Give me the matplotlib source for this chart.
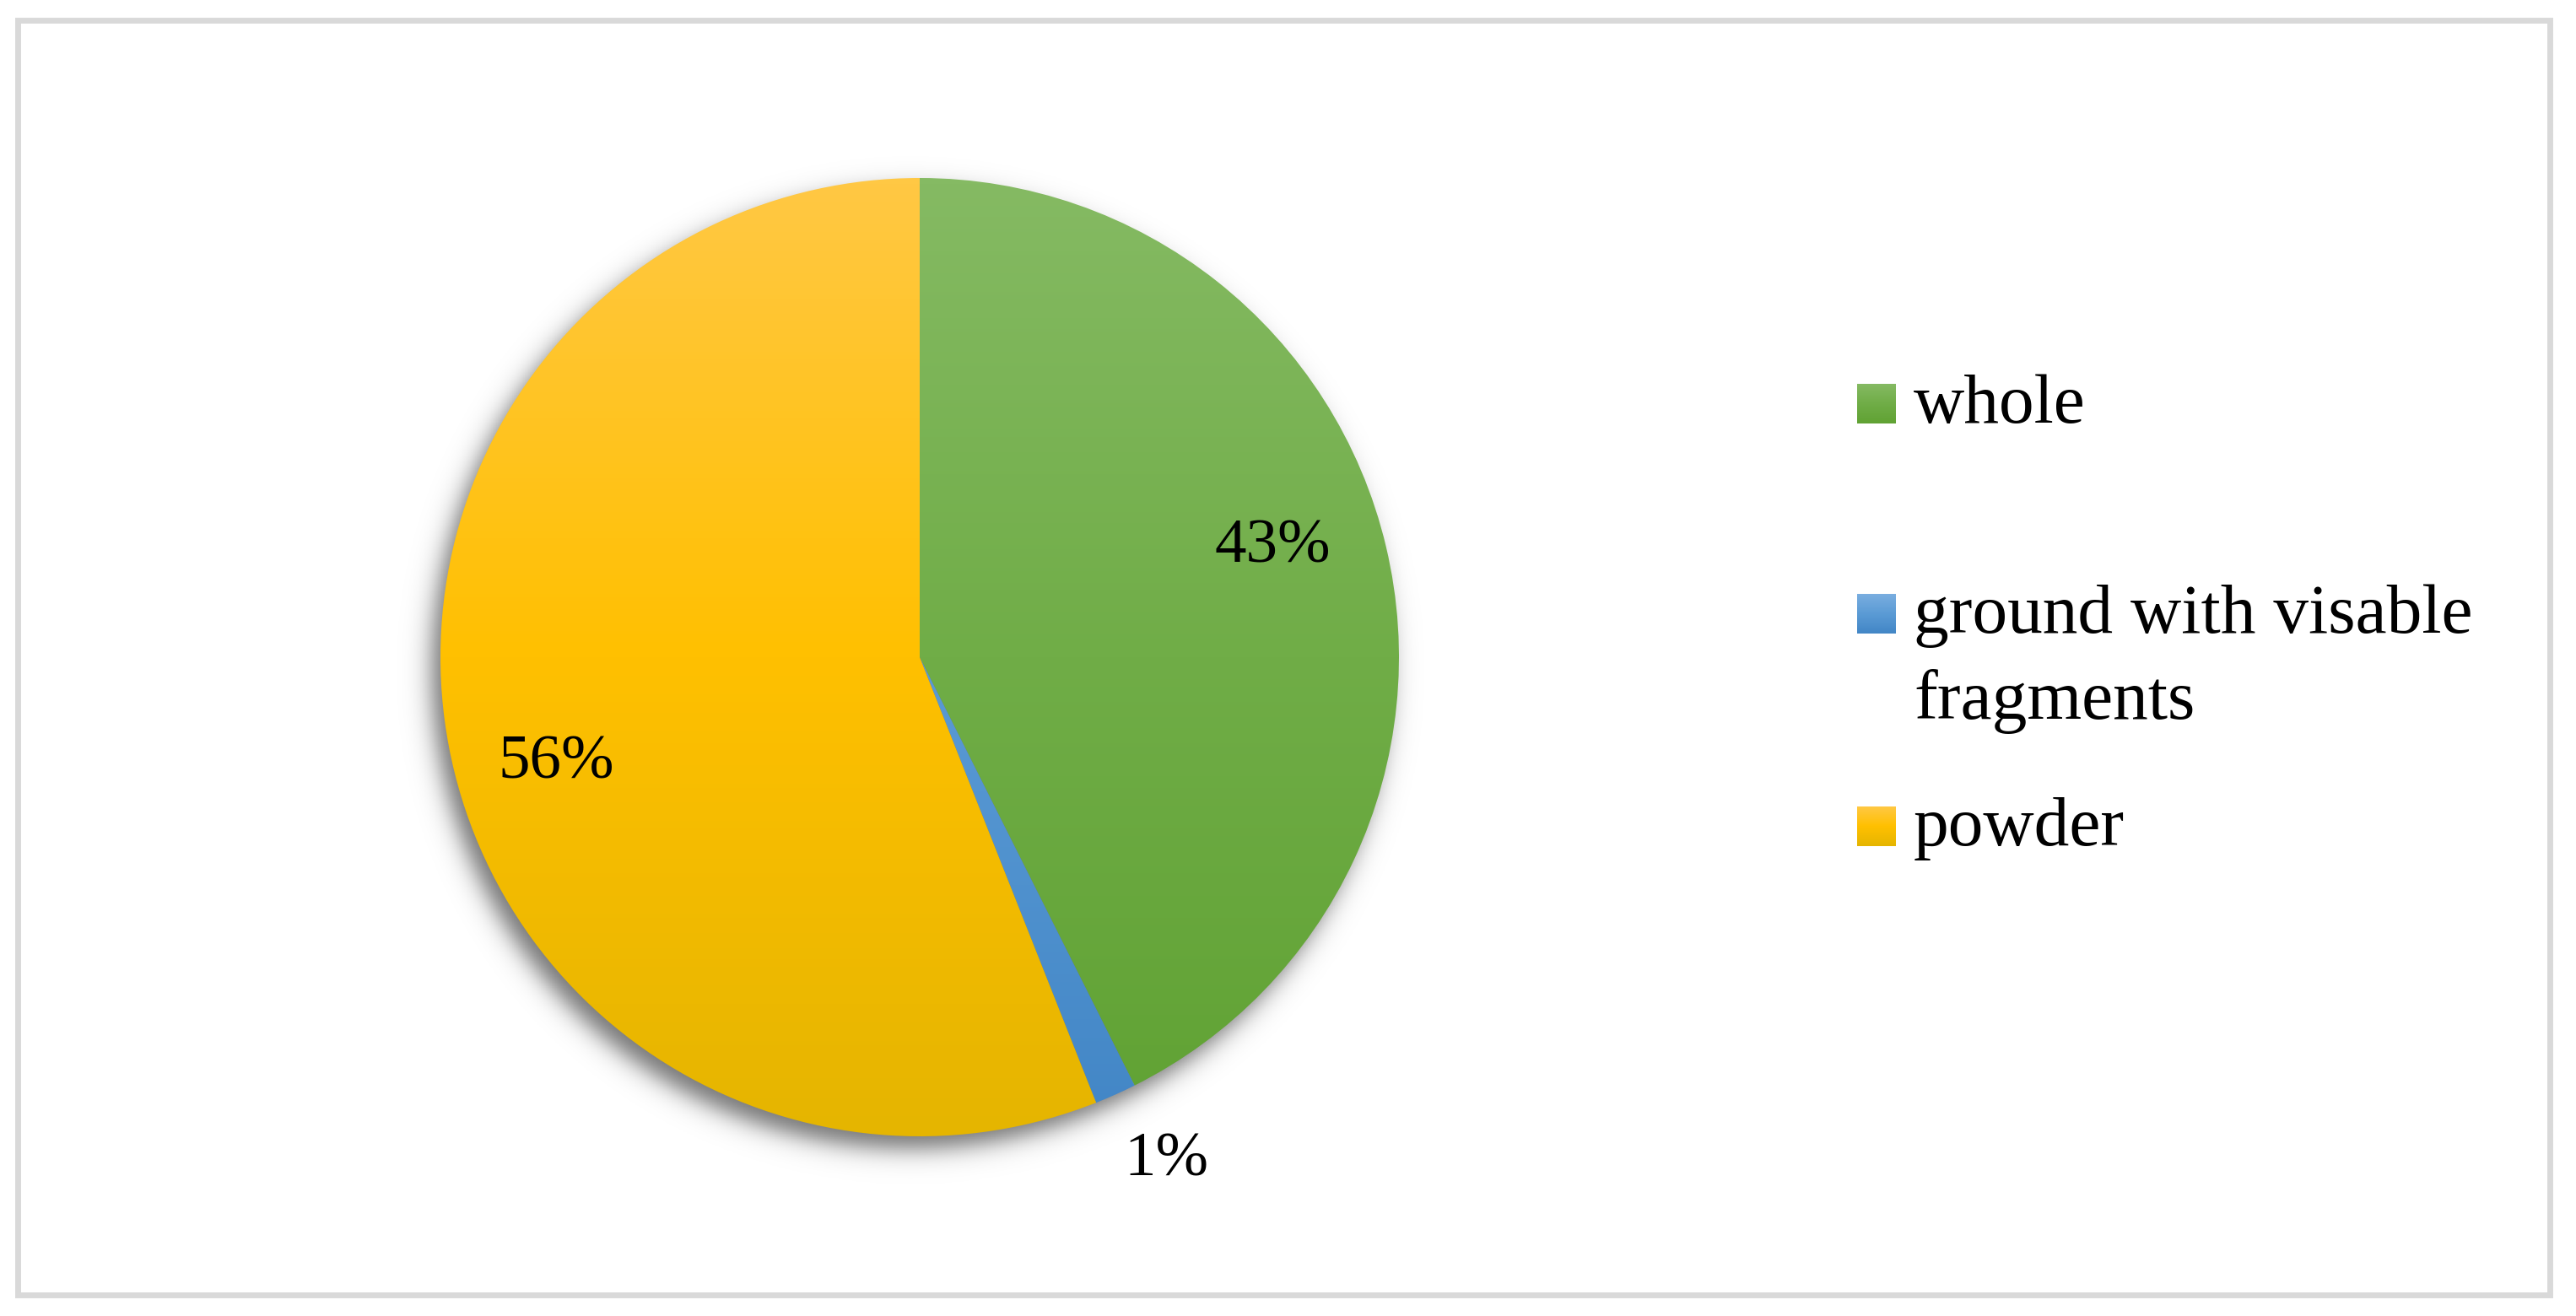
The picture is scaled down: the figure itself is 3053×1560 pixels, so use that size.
import numpy as np
import matplotlib
matplotlib.use('Agg')
import matplotlib.pyplot as plt
from matplotlib.colors import LinearSegmentedColormap
from matplotlib.patches import Rectangle

plt.rcParams['font.family'] = ['Liberation Serif', 'DejaVu Serif']

# data
categories = ['whole', 'ground with visable\nfragments', 'powder']
shares = [42.6, 1.4, 56.0]
pct_labels = ['43%', '1%', '56%']

# gradient stops (top, middle, bottom) per slice
grad_colors = [
    ['#85ba63', '#70ad47', '#60a233'],
    ['#7aaee0', '#5b9bd5', '#4286c6'],
    ['#ffc844', '#ffc000', '#e5b500'],
]

W, H = 3053, 1560
dpi = 200
fig = plt.figure(figsize=(W / dpi, H / dpi), dpi=dpi)

# light grey frame
fig.add_artist(Rectangle((20.5 / W, 1 - 1534.5 / H), 3001 / W, 1511 / H,
                         transform=fig.transFigure, fill=False,
                         edgecolor='#d9d9d9', linewidth=2.5))

# pie axes: center (1090, 779) px, radius 568 px, limits +-1.3
R = 568
cx, cy = 1090, 779
span = 1.3 * R
ax = fig.add_axes([(cx - span) / W, (H - cy - span) / H, 2 * span / W, 2 * span / H])

wedges, _ = ax.pie(shares, startangle=90, counterclock=False, radius=1,
                   wedgeprops=dict(linewidth=0), frame=True)
ax.set_xlim(-1.3, 1.3)
ax.set_ylim(-1.3, 1.3)
ax.set_aspect('equal')
ax.axis('off')

# soft outer shadow, shifted down-left
g = np.linspace(-1.3, 1.3, 700)
gx, gy = np.meshgrid(g, g[::-1])
d = np.hypot(gx + 0.02, gy + 0.028)
alpha = 0.55 * 0.5 * (1 - np.tanh((d - 1.0) / 0.03))
shadow = np.zeros(gx.shape + (4,))
shadow[..., 3] = alpha
ax.imshow(shadow, extent=[-1.3, 1.3, -1.3, 1.3], zorder=0, aspect='auto')

grad = np.linspace(0, 1, 256).reshape(-1, 1)
for w, cols in zip(wedges, grad_colors):
    w.set_facecolor('none')
    cmap = LinearSegmentedColormap.from_list('g', cols)
    im = ax.imshow(grad, cmap=cmap, extent=[-1, 1, -1, 1], origin='upper',
                   aspect='auto', zorder=2, interpolation='bilinear')
    im.set_clip_path(w)
ax.set_xlim(-1.3, 1.3)
ax.set_ylim(-1.3, 1.3)

# percentage labels
label_pos = [(0.736, 0.230), (0.515, -1.051), (-0.759, -0.221)]
for (x, y), t in zip(label_pos, pct_labels):
    ax.text(x, y, t, ha='center', va='center', fontsize=27, zorder=5)

# legend drawn by hand
box_x, box_w, box_h = 2201, 46, 47
entries = [
    (categories[0].split('\n'), 502, grad_colors[0]),
    (categories[1].split('\n'), 751, grad_colors[1]),
    (categories[2].split('\n'), 1003, grad_colors[2]),
]
for lines, bottom, cols in entries:
    lax = fig.add_axes([box_x / W, (H - bottom) / H, box_w / W, box_h / H])
    lax.imshow(grad, cmap=LinearSegmentedColormap.from_list('l', cols),
               aspect='auto', extent=[0, 1, 0, 1])
    lax.axis('off')
    for i, line in enumerate(lines):
        fig.text(2268 / W, (H - (bottom - 1 + 102 * i)) / H, line,
                 ha='left', va='baseline', fontsize=30)

fig.savefig('out.png', dpi=dpi)
